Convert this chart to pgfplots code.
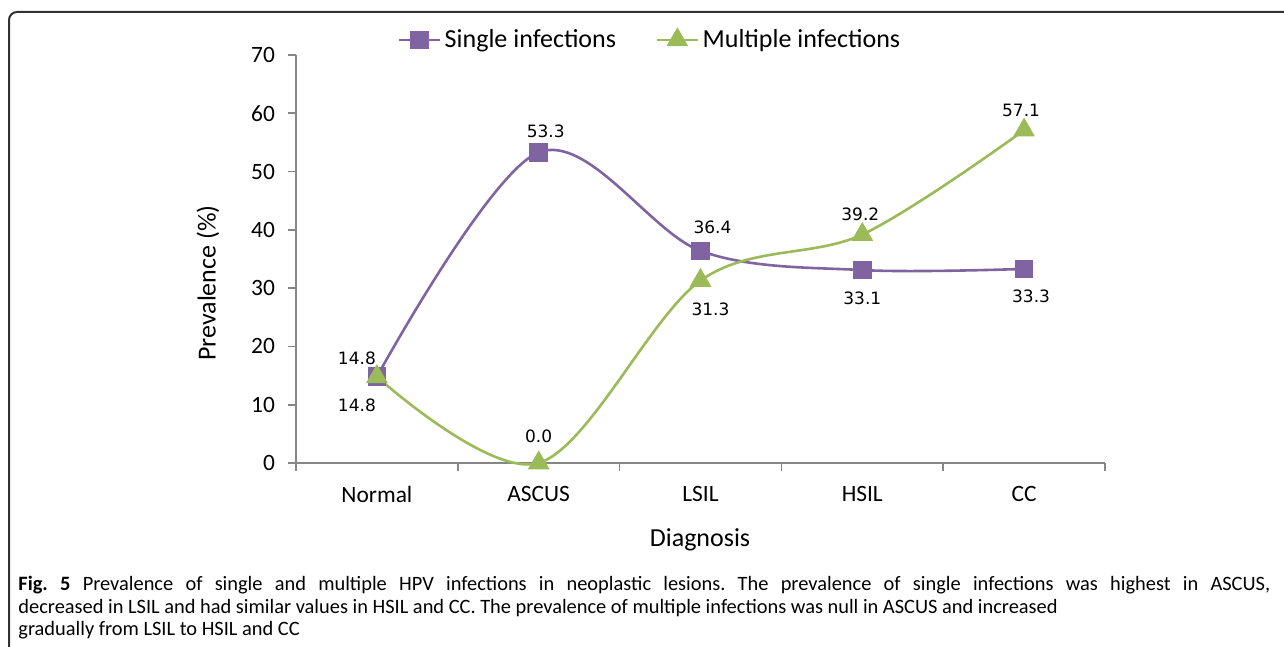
\documentclass[border=0pt]{standalone}
\usepackage{pgfplots}
\pgfplotsset{compat=1.18}
\usepackage{fontspec}
\setmainfont{Carlito}
\newfontfamily\dejavu{DejaVu Sans}
\definecolor{purp}{HTML}{8064A2}
\definecolor{grn}{HTML}{9BBB59}
\definecolor{axgray}{HTML}{868686}
\pgfplotstableread{
x y lab dx dy
0 14.8 14.8 -10 9
1 53.3 53.3 3.5 10.5
2 36.4 36.4 6 12
3 33.1 33.1 0 -14
4 33.3 33.3 3.5 -13.5
}\single
\pgfplotstableread{
x y lab dx dy
0 14.8 14.8 -10 -14.5
1 0.0 0.0 0 13.5
2 31.3 31.3 5 -14.5
3 39.2 39.2 -1 10
4 57.1 57.1 -1.5 10
}\multiple
\begin{document}
\frenchspacing
\begin{tikzpicture}
\useasboundingbox (0,0) rectangle (642pt,323.5pt);
\draw[line width=1pt, color=black!80] (4.5pt,-2pt) -- (4.5pt,313.5pt) arc[start angle=180,end angle=90,radius=4pt] -- (644pt,317.5pt);
\begin{axis}[
  at={(148pt,92pt)}, anchor=south west,
  scale only axis, width=404.5pt, height=204pt,
  xmin=-0.5, xmax=4.5, ymin=0, ymax=70,
  axis x line*=bottom, axis y line*=left,
  axis line style={draw=axgray, line width=0.8pt, -},
  tick style={draw=axgray, line width=0.8pt},
  tick align=outside, major tick length=4pt,
  ytick={0,10,...,70},
  xtick={-0.5,0.5,...,4.5}, xticklabels={},
  extra x ticks={0,1,2,3,4},
  extra x tick labels={Normal,ASCUS,LSIL,HSIL,CC},
  extra x tick style={tick style={draw=none}, tick label style={yshift=-4pt}},
  /pgf/number format/assume math mode=true,
  tick label style={font=\fontsize{11.7}{13}\selectfont},
  yticklabel style={xshift=-3pt},
  xlabel={Diagnosis}, ylabel={Prevalence (\%)},
  every axis x label/.style={at={(axis description cs:0.4994,-0.189)}, anchor=center, font=\fontsize{13}{15}\selectfont},
  every axis y label/.style={at={(axis description cs:-0.1088,0.441)}, rotate=90, anchor=center, font=\fontsize{13}{15}\selectfont},
  legend columns=2,
  legend style={at={(axis description cs:0.439,1.037)}, anchor=center, draw=none, fill=none,
    font=\fontsize{13}{15}\selectfont, /tikz/every even column/.append style={column sep=18pt}},
  legend image code/.code={\draw[#1, mark repeat=2, mark phase=2] plot coordinates {(0pt,0pt) (10pt,0pt) (20pt,0pt)};},
  nodes near coords, point meta=explicit symbolic,
  visualization depends on={\thisrow{dx} \as \dx},
  visualization depends on={\thisrow{dy} \as \dy},
  every node near coord/.append style={anchor=center, xshift=\dx pt, yshift=\dy pt, font=\dejavu\fontsize{8.5}{10}\selectfont, text=black},
  clip=false,
]
\addplot[smooth, tension=0.55, color=purp, line width=1.3pt, mark=square*, mark size=4pt, mark options={fill=purp, draw=purp}] table[x=x, y=y, meta=lab] {\single};
\addlegendentry{Single infections}
\addplot[smooth, tension=0.55, color=grn, line width=1.3pt, mark=triangle*, mark size=5pt, mark options={fill=grn, draw=grn}] table[x=x, y=y, meta=lab] {\multiple};
\addlegendentry{Multiple infections}
\end{axis}
\node[anchor=north west, align=left, inner sep=0pt, font=\fontsize{10.2}{11.25}\selectfont] at (9pt,35.5pt)
 {\makebox[626pt][s]{\textbf{Fig. 5} Prevalence of single and multiple HPV infections in neoplastic lesions. The prevalence of single infections was highest in ASCUS,}\\
 decreased in LSIL and had similar values in HSIL and CC. The prevalence of multiple infections was null in ASCUS and increased\\
 gradually from LSIL to HSIL and CC};
\end{tikzpicture}
\end{document}
